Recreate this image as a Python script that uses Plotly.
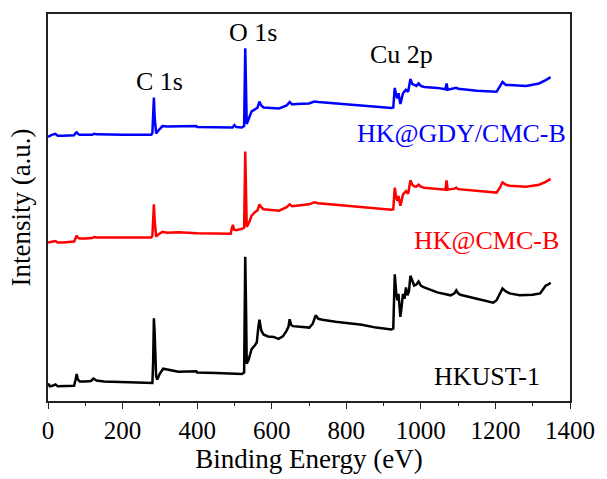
import plotly.graph_objects as go

# Binding energy (eV) and intensity (a.u., stacked offsets as drawn)
hkust_E = [0, 5, 12, 20, 26, 40, 70, 74, 77, 80, 85, 100, 115, 122, 130, 150, 200, 250, 280, 282, 284, 286, 288, 290, 293, 300, 309, 320, 350, 398, 400, 450, 500, 520, 526, 529, 531, 533, 538, 546, 555, 560, 564, 567, 572, 578, 590, 605, 618, 630, 640, 645, 648, 652, 657, 670, 701, 710, 718, 725, 736, 771, 798, 842, 880, 921, 926, 930, 934, 937, 940, 945, 948, 952, 956, 960, 964, 968, 972, 977, 982, 988, 994, 1000, 1009, 1044, 1080, 1090, 1095, 1100, 1106, 1150, 1194, 1203, 1212, 1219, 1228, 1238, 1265, 1300, 1320, 1326, 1335, 1344, 1348]
hkust_I = [18, 15, 15.5, 17, 15, 15, 15.5, 22, 27.5, 22, 20, 20, 20.5, 23, 21, 20, 19.5, 19, 18.5, 40, 84.5, 70, 50, 25, 22, 28, 33, 32, 30, 30.5, 29, 28.5, 28, 27.5, 29, 147.5, 100, 38, 42, 53, 57, 60, 75, 83, 72, 68, 66, 65.5, 63.5, 66, 72, 76, 83.5, 78, 76.5, 76, 75, 79, 87.5, 84, 83, 81, 80, 78, 75, 73, 74, 129.5, 110, 103, 109.5, 86, 95, 109.5, 104.5, 116, 108, 112, 128, 122, 118, 119, 122, 118, 116, 111, 108, 110, 113, 110, 108.5, 104.5, 100.5, 103, 110, 115, 112, 110, 108, 108.5, 110, 113, 118, 119.5, 121]

cmc_E = [0, 10, 20, 26, 40, 70, 74, 77, 80, 85, 100, 118, 124, 130, 200, 277, 280, 282, 284, 286, 288, 290, 295, 307, 320, 350, 400, 450, 490, 494, 496, 499, 505, 520, 526, 529, 531, 533, 540, 546, 555, 562, 567, 572, 578, 600, 620, 640, 648, 655, 666, 700, 714, 725, 771, 798, 850, 921, 926, 930, 934, 937, 940, 945, 948, 952, 960, 966, 972, 977, 982, 988, 994, 1000, 1009, 1044, 1066, 1069, 1072, 1090, 1095, 1100, 1150, 1203, 1212, 1219, 1228, 1238, 1282, 1300, 1317, 1335, 1344, 1348]
cmc_I = [162, 163, 163.5, 162, 162, 163, 166, 169, 167, 166, 166, 166.5, 167.5, 167, 167, 167, 169, 185, 201, 185, 170, 168, 170, 173, 172, 172.5, 171.5, 171, 171, 178, 180, 175, 174.5, 176, 177, 255, 200, 178, 183, 189.5, 193, 195, 201, 198, 196, 195, 194.5, 198, 201, 199, 199.5, 201, 203, 202, 200.5, 199.5, 198, 195.5, 196, 218, 208, 204.5, 209.5, 199.5, 204, 211, 214.5, 212, 225.5, 221, 219.5, 219, 221, 219, 218, 217, 216, 225.5, 216, 217, 218, 216.5, 214.5, 213, 218, 223.5, 221, 220, 219, 220, 221, 224, 226, 227]

gdy_E = [0, 10, 20, 26, 40, 70, 74, 77, 80, 85, 100, 118, 124, 130, 200, 277, 280, 282, 284, 286, 288, 290, 295, 307, 320, 398, 400, 450, 495, 500, 505, 520, 526, 529, 531, 533, 540, 546, 555, 562, 567, 572, 578, 600, 620, 640, 648, 655, 666, 700, 714, 725, 771, 798, 850, 921, 926, 930, 934, 937, 940, 945, 948, 952, 960, 966, 972, 977, 982, 988, 994, 1000, 1009, 1044, 1066, 1069, 1072, 1090, 1095, 1100, 1150, 1203, 1212, 1219, 1228, 1238, 1282, 1300, 1317, 1335, 1344, 1348]
gdy_I = [270, 272, 273, 271, 271, 271.5, 274, 274.5, 273, 272, 272, 272, 273, 272.5, 272, 272, 274, 290, 310, 290, 275, 273.5, 276, 281, 280.5, 281, 280, 280, 279.5, 282, 280, 279.5, 281, 360.5, 300, 283, 290, 296, 298, 300, 306, 302, 300, 299.5, 299, 302, 305.5, 303, 303.5, 304, 306, 305.5, 304, 303.5, 302, 299.5, 300, 320, 312, 309.5, 314.5, 303.5, 308, 314.5, 318, 316, 329, 324, 323, 322, 324.5, 322, 321, 320, 318.5, 324.5, 318, 319, 320, 319, 317, 316, 321, 326, 323, 323, 322, 323, 324.5, 328, 330, 331]

series_names = ["HKUST-1", "HK@CMC-B", "HK@GDY/CMC-B"]
series_colors = ["#000000", "#ff0000", "#0000ff"]

peak_labels = ["C 1s", "O 1s", "Cu 2p"]
peak_label_E = [298, 550, 947]
peak_label_I = [310, 360, 337]

name_label_E = [1325, 1377, 1395]
name_label_I = [8, 147, 257]

x_ticks = [0, 200, 400, 600, 800, 1000, 1200, 1400]

FONT = "Liberation Serif, Times New Roman, serif"

fig = go.Figure()
for E, I, name, col in zip([hkust_E, cmc_E, gdy_E], [hkust_I, cmc_I, gdy_I], series_names, series_colors):
    fig.add_trace(go.Scatter(x=E, y=I, mode="lines", name=name,
                             line=dict(color=col, width=2.5), showlegend=False))

for txt, ex, iy in zip(peak_labels, peak_label_E, peak_label_I):
    fig.add_annotation(x=ex, y=iy, text=txt, showarrow=False, xref="x", yref="y",
                       xanchor="center", yanchor="bottom",
                       font=dict(family=FONT, size=26, color="#000000"))

for txt, ex, iy, col in zip(series_names, name_label_E, name_label_I, series_colors):
    fig.add_annotation(x=ex, y=iy, text=txt, showarrow=False, xref="x", yref="y",
                       xanchor="right", yanchor="bottom",
                       font=dict(family=FONT, size=26, color=col))

fig.update_layout(
    width=607, height=479,
    margin=dict(l=48, r=31, t=14, b=70),
    paper_bgcolor="white", plot_bgcolor="white",
    font=dict(family=FONT, size=24, color="#000000"),
    xaxis=dict(range=[0, 1400], tickvals=x_ticks, ticktext=[str(v) for v in x_ticks],
               ticks="outside", ticklen=6, tickwidth=1.3, tickcolor="#222222",
               minor=dict(dtick=100, ticks="outside", ticklen=3, tickwidth=1.3, tickcolor="#222222"),
               showline=True, linecolor="#222222", linewidth=1.5, mirror=True,
               showgrid=False, zeroline=False,
               tickfont=dict(family=FONT, size=25),
               title=dict(text="Binding Energy (eV)", font=dict(family=FONT, size=27), standoff=4)),
    yaxis=dict(range=[0, 395.5], showticklabels=False, ticks="",
               showline=True, linecolor="#222222", linewidth=1.5, mirror=True,
               showgrid=False, zeroline=False,
               title=dict(text="Intensity (a.u.)", font=dict(family=FONT, size=27), standoff=8)),
)

fig.write_html("out.html")
